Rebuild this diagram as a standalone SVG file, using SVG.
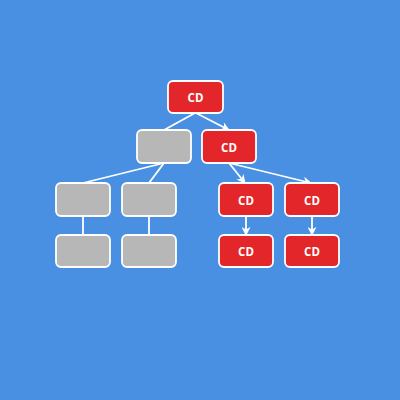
<svg xmlns="http://www.w3.org/2000/svg" width="400" height="400" viewBox="0 0 400 400">
<defs>
<marker id="ah" viewBox="0 0 10 10" refX="9" refY="5" markerWidth="9" markerHeight="9" markerUnits="userSpaceOnUse" orient="auto">
<path d="M0,0 L10,5 L0,10 L3,5 Z" fill="#ffffff"/>
</marker>
<style>
.n rect{stroke:#ffffff;stroke-width:1.8}
.r rect{fill:#e3262a}
.g rect{fill:#b7b7b7}
.n text{fill:#ffffff;font-family:"Open Sans","DejaVu Sans",sans-serif;font-weight:bold;font-size:11.5px;text-anchor:middle;dominant-baseline:central}
.e line{stroke:#ffffff;stroke-width:1.8}
.a{marker-end:url(#ah)}
</style>
</defs>
<rect width="400" height="400" fill="#4a90e2"/>
<g class="e">
<line x1="195" y1="113" x2="164" y2="130"/>
<line class="a" x1="196" y1="113" x2="229" y2="130"/>
<line x1="164" y1="163" x2="83" y2="183"/>
<line x1="164" y1="163" x2="149" y2="183"/>
<line class="a" x1="229" y1="163" x2="245" y2="183"/>
<line class="a" x1="229" y1="163" x2="311" y2="183"/>
<line x1="83" y1="216" x2="83" y2="235"/>
<line x1="149" y1="216" x2="149" y2="235"/>
<line class="a" x1="246" y1="216" x2="246" y2="235"/>
<line class="a" x1="312" y1="216" x2="312" y2="235"/>
</g>
<g id="root" class="n r"><rect x="168" y="81" width="55" height="32" rx="5"/><text x="195.5" y="97">CD</text></g>
<g id="g1" class="n g"><rect x="137" y="130" width="54" height="33" rx="5"/></g>
<g id="r1" class="n r"><rect x="202" y="130" width="54" height="33" rx="5"/><text x="229" y="147">CD</text></g>
<g id="g2" class="n g"><rect x="56" y="183" width="54" height="33" rx="5"/></g>
<g id="g3" class="n g"><rect x="122" y="183" width="54" height="33" rx="5"/></g>
<g id="r2" class="n r"><rect x="219" y="183" width="54" height="33" rx="5"/><text x="246" y="200">CD</text></g>
<g id="r3" class="n r"><rect x="285" y="183" width="54" height="33" rx="5"/><text x="312" y="200">CD</text></g>
<g id="g4" class="n g"><rect x="56" y="235" width="54" height="32" rx="5"/></g>
<g id="g5" class="n g"><rect x="122" y="235" width="54" height="32" rx="5"/></g>
<g id="r4" class="n r"><rect x="219" y="235" width="54" height="32" rx="5"/><text x="246" y="251">CD</text></g>
<g id="r5" class="n r"><rect x="285" y="235" width="54" height="32" rx="5"/><text x="312" y="251">CD</text></g>
</svg>
